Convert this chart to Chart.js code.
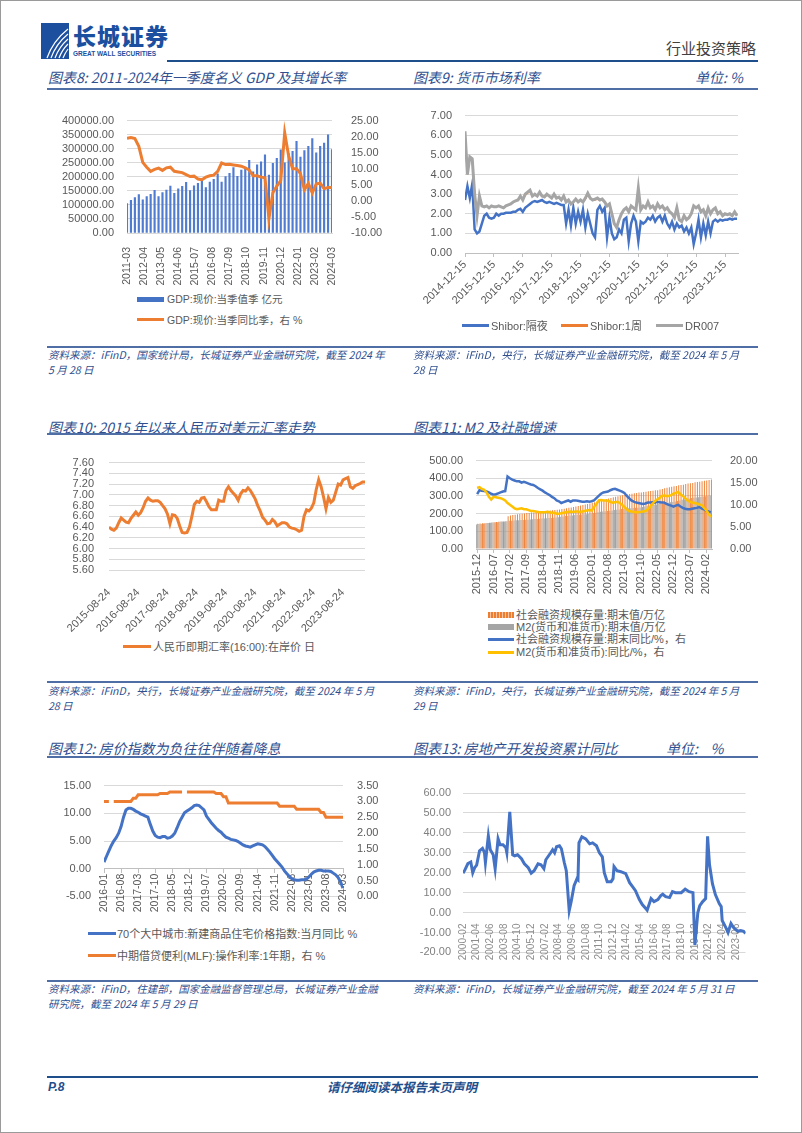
<!DOCTYPE html>
<html lang="zh-CN">
<head>
<meta charset="utf-8">
<title>行业投资策略 P.8</title>
<script src="https://cdn.jsdelivr.net/npm/chart.js@4.4.1/dist/chart.umd.min.js"></script>
<style>
  body { margin: 0; background: #fff; }
  #page { position: relative; width: 802px; height: 1133px; box-sizing: border-box; border: 1px solid #9a9a9a; overflow: hidden;
          font-family: "Liberation Sans", "Noto Sans CJK SC", sans-serif; }
  #page > * { position: absolute; }
  .title { font-family: "Noto Sans CJK SC", sans-serif; font-style: italic; color: #2f4f8f; font-size: 14px; line-height: 16px; white-space: nowrap; }
  .rule { height: 2px; background: #4f6ea6; }
  .src { font-family: "Noto Sans CJK SC", sans-serif; font-style: italic; color: #2f4f8f; font-size: 10.5px; line-height: 15px; white-space: nowrap; }
  .lg { font-size: 11px; line-height: 12px; color: #595959; white-space: nowrap; }
</style>
</head>
<body>
<div id="page">
  <!-- header -->
  <svg style="left:40px;top:22px" width="28" height="36" viewBox="0 0 28 36">
    <rect width="28" height="36" fill="#1d4f9f"/>
    <path d="M6 35 Q12 18 27 6" stroke="#fff" stroke-width="1.2" fill="none"/>
    <path d="M10 35 Q15 21 27 11" stroke="#fff" stroke-width="1.2" fill="none"/>
    <path d="M14 35 Q18 24 27 16" stroke="#fff" stroke-width="1.2" fill="none"/>
    <path d="M18 35 Q21 27 27 21" stroke="#fff" stroke-width="1.2" fill="none"/>
    <path d="M22 35 Q24 30 27 26" stroke="#fff" stroke-width="1.2" fill="none"/>
  </svg>
  <div style="left:72px;top:21px;font-family:'Noto Sans CJK SC';font-weight:900;font-size:23px;line-height:26px;color:#1b4f9f;letter-spacing:1px">长城证券</div>
  <div style="left:72px;top:49px;font-size:6.5px;line-height:8px;font-weight:bold;color:#1b4f9f">GREAT WALL SECURITIES</div>
  <div style="left:665px;top:38px;font-family:'Noto Sans CJK SC';font-size:15px;line-height:18px;color:#404040">行业投资策略</div>
  <div style="left:166px;top:59px;width:591px;height:2px;background:#1f4e8c"></div>

  <!-- row 1 -->
  <div class="title" style="left:47px;top:68px">图表8:  2011-2024年一季度名义 GDP 及其增长率</div>
  <div class="title" style="left:412px;top:68px">图表9:  货币市场利率</div>
  <div class="title" style="left:694px;top:68px">单位:  %</div>
  <div class="rule" style="left:46px;top:87px;width:711px"></div>

  <canvas id="c8" width="345" height="185" style="left:40px;top:100px"></canvas>
  <div style="left:136px;top:296px;width:27px;height:5px;background:#4472C4"></div>
  <div class="lg" style="left:166px;top:292px;font-size:10.5px">GDP:现价:当季值季 亿元</div>
  <div style="left:136px;top:317px;width:27px;height:3px;background:#ED7D31"></div>
  <div class="lg" style="left:166px;top:313px;font-size:10.5px">GDP:现价:当季同比季，右 %</div>

  <canvas id="c9" width="345" height="225" style="left:405px;top:95px"></canvas>
  <div style="left:461px;top:323px;width:27px;height:3px;background:#4472C4"></div>
  <div class="lg" style="left:490px;top:319px">Shibor:隔夜</div>
  <div style="left:560px;top:323px;width:27px;height:3px;background:#ED7D31"></div>
  <div class="lg" style="left:589px;top:319px">Shibor:1周</div>
  <div style="left:655px;top:323px;width:27px;height:3px;background:#A5A5A5"></div>
  <div class="lg" style="left:684px;top:319px">DR007</div>

  <div class="rule" style="left:46px;top:345px;width:711px"></div>
  <div class="src" style="left:47px;top:346px">资料来源：iFinD，国家统计局，长城证券产业金融研究院，截至 2024 年<br>5 月 28 日</div>
  <div class="src" style="left:412px;top:346px">资料来源：iFinD，央行，长城证券产业金融研究院，截至 2024 年 5 月<br>28 日</div>

  <!-- row 2 -->
  <div class="title" style="left:47px;top:418px">图表10:  2015 年以来人民币对美元汇率走势</div>
  <div class="title" style="left:412px;top:418px">图表11:  M2 及社融增速</div>
  <div class="rule" style="left:46px;top:432px;width:711px"></div>

  <canvas id="c10" width="340" height="192" style="left:40px;top:440px"></canvas>
  <div style="left:122px;top:644px;width:28px;height:3px;background:#ED7D31"></div>
  <div class="lg" style="left:152px;top:640px">人民币即期汇率(16:00):在岸价 日</div>

  <canvas id="c11" width="360" height="160" style="left:405px;top:440px"></canvas>
  <div style="left:487px;top:611px;width:26px;height:6px;background:repeating-linear-gradient(90deg,#ED7D31 0 2px,#f6c4a0 2px 3px)"></div>
  <div class="lg" style="left:515px;top:608px">社会融资规模存量:期末值/万亿</div>
  <div style="left:487px;top:623px;width:26px;height:6px;background:#A5A5A5"></div>
  <div class="lg" style="left:515px;top:620px">M2(货币和准货币):期末值/万亿</div>
  <div style="left:487px;top:637px;width:26px;height:3px;background:#4472C4"></div>
  <div class="lg" style="left:515px;top:632px">社会融资规模存量:期末同比/%，右</div>
  <div style="left:487px;top:650px;width:26px;height:3px;background:#FFC000"></div>
  <div class="lg" style="left:515px;top:645px">M2(货币和准货币):同比/%，右</div>

  <div class="rule" style="left:46px;top:680px;width:711px"></div>
  <div class="src" style="left:47px;top:682px">资料来源：iFinD，央行，长城证券产业金融研究院，截至 2024 年 5 月<br>28 日</div>
  <div class="src" style="left:412px;top:682px">资料来源：iFinD，央行，长城证券产业金融研究院，截至 2024 年 5 月<br>29 日</div>

  <!-- row 3 -->
  <div class="title" style="left:47px;top:739px">图表12:  房价指数为负往往伴随着降息</div>
  <div class="title" style="left:412px;top:739px">图表13:  房地产开发投资累计同比</div>
  <div class="title" style="left:665px;top:739px">单位:&nbsp;&nbsp;&nbsp; %</div>
  <div class="rule" style="left:46px;top:755px;width:711px"></div>

  <canvas id="c12" width="345" height="150" style="left:40px;top:765px"></canvas>
  <div style="left:87px;top:931px;width:28px;height:3px;background:#4472C4"></div>
  <div class="lg" style="left:116px;top:927px">70个大中城市:新建商品住宅价格指数:当月同比 %</div>
  <div style="left:87px;top:953px;width:28px;height:3px;background:#ED7D31"></div>
  <div class="lg" style="left:116px;top:949px">中期借贷便利(MLF):操作利率:1年期，右 %</div>

  <canvas id="c13" width="345" height="205" style="left:405px;top:765px"></canvas>

  <div class="rule" style="left:46px;top:979px;width:711px"></div>
  <div class="src" style="left:47px;top:980px">资料来源：iFinD，住建部，国家金融监督管理总局，长城证券产业金融<br>研究院，截至 2024 年 5 月 29 日</div>
  <div class="src" style="left:412px;top:980px">资料来源：iFinD，长城证券产业金融研究院，截至 2024 年 5 月 31 日</div>

  <!-- footer -->
  <div style="left:46px;top:1075px;width:711px;height:2px;background:#1f4e8c"></div>
  <div style="left:47px;top:1079px;font-size:12px;line-height:14px;font-weight:bold;font-style:italic;color:#1f4e8c">P.8</div>
  <div style="left:326px;top:1079px;font-family:'Noto Sans CJK SC';font-size:12.5px;line-height:14px;font-weight:bold;font-style:italic;color:#1f4e8c">请仔细阅读本报告末页声明</div>
</div>

<script>
// ---- 图表8: quarterly GDP (亿元) and yoy (%), 2011Q1 - 2024Q1
const gdpValue = [
  105000, 116000, 126000, 137000,  118000, 130000, 138000, 152000,
  130000, 144000, 153000, 167000,  141000, 157000, 166000, 180000,
  151000, 168000, 177000, 192000,  162000, 181000, 191000, 211000,
  181000, 201000, 212000, 233000,  202000, 224000, 234000, 259000,
  218000, 243000, 253000, 278000,  206000, 248000, 266000, 296000,
  250000, 283000, 291000, 326000,  270000, 293000, 308000, 336000,
  285000, 308000, 320000, 349000,  297000
];
const gdpYoy = [
  19.5, 19.7, 19.4, 17.0,  12.0, 10.5, 9.2, 9.8,
  10.2, 9.5, 10.3, 10.5,   9.2, 9.0, 8.8, 8.2,
  7.6, 7.7, 6.8, 6.6,      7.4, 7.8, 8.0, 9.2,
  11.8, 11.3, 11.4, 11.2,  11.0, 10.8, 10.3, 9.6,
  7.8, 7.8, 7.4, 7.2,      -5.5, 2.5, 4.6, 6.3,
  21.2, 14.0, 10.0, 10.0,  8.5, 3.5, 5.4, 2.5,
  5.3, 5.5, 3.8, 4.2,      4.2
];
const gdpTicks = ['2011-03', '2012-04', '2013-05', '2014-06', '2015-07', '2016-08', '2017-09',
                  '2018-10', '2019-11', '2020-12', '2022-01', '2023-02', '2024-03'];

// ---- 图表9: monthly money market rates from 2014-12 (%)
const shiborON = [
  2.7, 3.4, 2.8, 3.5, 1.2, 1.0, 1.1, 1.5, 1.9, 2.0, 1.8, 1.75,
  1.8, 2.0, 1.9, 2.0, 2.0, 2.05, 2.05, 2.05, 2.1, 2.1, 2.2, 2.25,
  2.1, 2.3, 2.4, 2.5, 2.6, 2.65, 2.6, 2.65, 2.7, 2.6, 2.55, 2.6,
  2.55, 2.5, 2.55, 2.5, 2.45, 2.45, 1.5, 2.2, 1.4, 2.3, 1.5, 2.1,
  1.6, 2.2, 1.3, 2.0, 1.5, 1.0, 0.8, 2.2, 2.4, 2.1, 2.3, 0.8,
  1.8, 1.0, 0.7, 0.8, 1.2, 1.0, 1.7, 1.8, 0.6, 1.5, 1.9, 1.6,
  0.6, 1.6, 1.5, 1.6, 1.8, 1.7, 1.9, 1.6, 1.8, 1.9, 1.6, 1.9,
  1.5, 1.3, 1.6, 1.2, 1.5, 1.3, 1.4, 1.1, 1.3, 1.0, 1.3, 0.45,
  1.0, 1.7, 0.8, 1.5, 0.9, 1.6, 1.0, 1.6, 1.7, 1.6, 1.7, 1.65,
  1.7, 1.7, 1.75, 1.7, 1.75, 1.75
];
const shibor1W = [
  6.1, 4.0, 4.9, 4.8, 3.0, 1.9, 2.9, 2.4, 2.35, 2.4, 2.3, 2.4,
  2.35, 2.35, 2.4, 2.35, 2.3, 2.4, 2.45, 2.5, 2.6, 2.65, 2.7, 2.85,
  2.7, 2.95, 3.05, 3.15, 2.9, 2.95, 2.9, 3.05, 2.9, 2.85, 2.95, 2.9,
  2.8, 2.95, 2.8, 2.85, 2.7, 2.85, 2.6, 2.7, 2.5, 2.6, 2.7, 2.6,
  2.7, 2.6, 2.75, 3.0, 2.75, 2.7, 2.7, 2.75, 2.7, 2.7, 2.6, 2.4,
  2.5, 2.0, 1.5, 1.3, 1.7, 2.0, 2.2, 2.3, 2.1, 2.35, 2.3, 2.2,
  3.2, 2.2, 2.35, 2.3, 2.55, 2.3, 2.35, 2.2, 2.45, 2.3, 2.35, 2.2,
  2.3, 2.1, 2.0, 1.8, 2.25, 1.7, 1.6, 1.9, 1.7, 1.8, 2.0, 2.35,
  2.3, 2.35, 2.1, 2.2, 1.9, 2.25, 2.0, 2.2, 2.25, 2.0, 2.1, 1.9,
  2.0, 1.95, 2.0, 1.9, 2.05, 1.9
];
const dr007 = [
  6.2, 4.0, 4.9, 4.8, 3.0, 1.9, 2.9, 2.4, 2.35, 2.4, 2.3, 2.4,
  2.35, 2.35, 2.4, 2.35, 2.3, 2.4, 2.45, 2.5, 2.6, 2.65, 2.7, 2.9,
  2.7, 3.0, 3.1, 3.2, 2.9, 3.0, 2.9, 3.1, 2.9, 2.85, 3.0, 2.9,
  2.8, 3.0, 2.8, 2.85, 2.7, 2.9, 2.6, 2.7, 2.5, 2.6, 2.75, 2.6,
  2.7, 2.6, 2.8, 3.05, 2.8, 2.7, 2.75, 2.8, 2.7, 2.75, 2.6, 2.4,
  2.5, 2.0, 1.5, 1.3, 1.7, 2.0, 2.2, 2.3, 2.1, 2.4, 2.3, 2.2,
  3.3, 2.2, 2.4, 2.3, 2.6, 2.3, 2.4, 2.2, 2.5, 2.3, 2.4, 2.2,
  2.3, 2.1, 2.0, 1.8, 2.3, 1.7, 1.6, 1.9, 1.7, 1.8, 2.0, 2.4,
  2.3, 2.4, 2.1, 2.2, 1.9, 2.3, 2.0, 2.2, 2.3, 2.0, 2.1, 1.9,
  2.0, 1.95, 2.0, 1.9, 2.1, 1.9
];
const rateTicks = ['2014-12-15', '2015-12-15', '2016-12-15', '2017-12-15', '2018-12-15',
                   '2019-12-15', '2020-12-15', '2021-12-15', '2022-12-15', '2023-12-15'];

// ---- 图表10: RMB / USD, monthly from 2015-08
const fxRate = [
  6.40, 6.36, 6.34, 6.38, 6.48, 6.57, 6.53, 6.49, 6.48, 6.56, 6.62, 6.68,
  6.62, 6.67, 6.76, 6.88, 6.94, 6.90, 6.88, 6.89, 6.89, 6.86, 6.80, 6.74,
  6.64, 6.46, 6.63, 6.62, 6.56, 6.42, 6.30, 6.29, 6.30, 6.40, 6.60, 6.82,
  6.88, 6.86, 6.94, 6.95, 6.87, 6.78, 6.72, 6.72, 6.72, 6.90, 6.88, 6.88,
  7.08, 7.15, 7.08, 7.03, 6.98, 6.90, 7.02, 7.08, 7.07, 7.13, 7.08, 7.00,
  6.92, 6.80, 6.70, 6.58, 6.53, 6.46, 6.47, 6.54, 6.50, 6.42, 6.45, 6.48,
  6.48, 6.46, 6.40, 6.38, 6.37, 6.35, 6.32, 6.34, 6.60, 6.72, 6.70, 6.75,
  6.85, 7.10, 7.28, 7.15, 6.96, 6.74, 6.95, 6.86, 6.90, 7.05, 7.20, 7.18,
  7.28, 7.30, 7.32, 7.15, 7.12, 7.17, 7.19, 7.21, 7.24, 7.24
];
const fxTicks = ['2015-08-24', '2016-08-24', '2017-08-24', '2018-08-24', '2019-08-24',
                 '2020-08-24', '2021-08-24', '2022-08-24', '2023-08-24'];

// ---- 图表11: monthly from 2015-12, stock (万亿) and yoy (%)
const socialStock = [
  143, 144, 145, 146, 147, 148, 150, 152, 153, 154,
  155, 156, 157, 185, 190, 192, 194, 196, 198, 200,
  201, 203, 204, 206, 207, 208, 210, 212, 213, 214,
  216, 218, 219, 221, 222, 224, 226, 228, 230, 233,
  235, 237, 240, 243, 246, 249, 252, 255, 258, 262,
  265, 269, 272, 276, 279, 283, 286, 289, 292, 295,
  298, 301, 304, 307, 309, 311, 313, 315, 317, 319,
  320, 322, 324, 326, 328, 330, 332, 333, 336, 339,
  343, 346, 349, 352, 355, 357, 360, 362, 364, 367,
  370, 372, 374, 377, 379, 381, 383, 386, 388, 390,
  393
];
const m2Stock = [
  139, 141, 142, 144, 145, 147, 149, 150, 151, 152,
  154, 155, 156, 157, 160, 160, 161, 162, 163, 164,
  164, 165, 166, 167, 168, 169, 170, 171, 172, 173,
  174, 175, 176, 177, 178, 180, 182, 184, 186, 187,
  189, 190, 192, 193, 194, 195, 196, 197, 198, 200,
  203, 205, 208, 210, 212, 213, 215, 216, 218, 220,
  222, 224, 226, 228, 229, 230, 231, 232, 233, 234,
  235, 237, 240, 243, 245, 248, 250, 252, 254, 256,
  258, 260, 262, 264, 266, 269, 272, 275, 278, 281,
  284, 286, 288, 290, 291, 292, 294, 297, 299, 300,
  301
];
const socialYoy = [
  12.4, 13.3, 13.2, 13.1, 13.0, 12.8, 12.5, 12.3, 12.4, 12.6,
  12.8, 13.0, 13.1, 16.4, 16.0, 15.7, 15.5, 15.3, 15.3, 15.0,
  15.2, 15.0, 14.8, 14.6, 14.5, 14.2, 13.8, 13.5, 13.2, 12.8,
  12.5, 12.2, 11.8, 11.5, 11.0, 10.8, 10.4, 10.6, 10.8, 11.0,
  10.7, 11.0, 11.0, 10.9, 10.8, 10.7, 10.7, 10.8, 10.7, 10.8,
  11.0, 11.5, 12.0, 12.5, 12.8, 12.9, 13.0, 13.3, 13.5, 13.6,
  13.4, 13.2, 13.0, 12.7, 12.0, 11.5, 11.0, 10.7, 10.5, 10.4,
  10.3, 10.2, 10.3, 10.5, 10.5, 10.6, 10.5, 10.7, 10.6, 10.5,
  10.5, 10.2, 10.0, 9.8, 9.6, 9.8, 10.0, 9.6, 9.3, 9.1,
  9.0, 9.0, 9.1, 9.2, 9.3, 9.5, 9.2, 9.0, 8.7, 8.5,
  8.3
];
const m2Yoy = [
  13.8, 14.0, 13.6, 13.4, 12.8, 11.8, 11.2, 11.8, 11.7, 11.6,
  11.5, 11.3, 11.0, 10.4, 10.0, 9.6, 9.2, 9.0, 9.1, 9.2,
  9.0, 9.0, 8.8, 8.6, 8.6, 8.5, 8.4, 8.3, 8.3, 8.3,
  8.4, 8.3, 8.2, 8.2, 8.0, 8.0, 8.1, 8.2, 8.3, 8.4,
  8.5, 8.4, 8.5, 8.5, 8.4, 8.5, 8.6, 8.7, 8.8, 8.7,
  9.5, 10.1, 11.0, 11.1, 11.0, 11.0, 10.9, 10.7, 10.5, 10.6,
  10.7, 10.4, 10.0, 9.5, 9.0, 8.6, 8.5, 8.4, 8.3, 8.3,
  8.4, 8.5, 8.6, 9.0, 9.5, 10.2, 10.8, 11.2, 11.5, 12.0,
  12.1, 12.0, 12.0, 12.2, 12.5, 12.7, 12.9, 12.4, 12.0, 11.5,
  11.0, 10.7, 10.5, 10.4, 10.3, 10.1, 10.0, 9.4, 8.8, 8.0,
  7.2
];
const m2Ticks = ['2015-12', '2016-07', '2017-02', '2017-09', '2018-04', '2018-11', '2019-06', '2020-01',
                 '2020-08', '2021-03', '2021-10', '2022-05', '2022-12', '2023-07', '2024-02'];

// ---- 图表12: monthly from 2016-01
const houseYoy = [
  1.2, 2.2, 3.2, 4.2, 5.0, 5.6, 6.4, 7.6, 9.3, 10.6,
  10.9, 10.9, 10.7, 10.4, 10.2, 9.9, 9.7, 9.5, 9.3, 8.0,
  6.8, 6.0, 5.7, 5.6, 5.8, 5.8, 5.5, 5.6, 5.9, 6.4,
  7.4, 8.5, 9.3, 10.1, 10.4, 10.7, 11.0, 11.4, 11.5, 11.4,
  11.0, 10.6, 9.5, 8.9, 8.3, 7.8, 7.3, 6.9, 6.6, 6.1,
  5.7, 5.5, 5.3, 5.2, 5.1, 4.9, 4.6, 4.3, 4.1, 4.0,
  3.9, 4.1, 4.3, 4.5, 4.4, 4.3, 4.0, 3.5, 3.0, 2.4,
  1.8, 1.3, 0.8, 0.3, -0.4, -0.9, -1.4, -1.8, -2.0, -2.1,
  -2.1, -2.0, -2.0, -1.9, -1.5, -1.0, -0.6, -0.4, -0.3, -0.3,
  -0.4, -0.4, -0.4, -0.5, -0.8, -1.1, -1.6, -2.4, -3.5
];
const mlfRate = [
  3.0, 3.0, 3.0, null, 3.0, 3.0, 3.0, 3.0, 3.0, 3.0,
  3.0, 3.0, 3.1, 3.1, 3.21, 3.21, 3.21, 3.21, 3.21, 3.21,
  3.21, 3.21, 3.21, 3.25, 3.25, 3.25, 3.25, 3.3, 3.3, 3.3,
  3.3, 3.3, 3.3, null, 3.3, 3.3, 3.3, 3.3, 3.3, 3.3,
  3.3, 3.3, 3.3, 3.3, 3.3, 3.3, 3.25, 3.25, 3.25, 3.15,
  3.15, 2.95, 2.95, 2.95, 2.95, 2.95, 2.95, 2.95, 2.95, 2.95,
  2.95, 2.95, 2.95, 2.95, 2.95, 2.95, 2.95, 2.95, 2.95, 2.95,
  2.95, 2.95, 2.85, 2.85, 2.85, 2.85, 2.85, 2.85, 2.85, 2.75,
  2.75, 2.75, 2.75, 2.75, 2.75, 2.75, 2.75, 2.75, 2.75, 2.65,
  2.65, 2.5, 2.5, 2.5, 2.5, 2.5, 2.5, 2.5, 2.5
];
const houseTicks = ['2016-01', '2016-08', '2017-03', '2017-10', '2018-05', '2018-12', '2019-07', '2020-02',
                    '2020-09', '2021-04', '2021-11', '2022-06', '2023-01', '2023-08', '2024-03'];

// ---- 图表13: cumulative yoy, months counted from 2000-02
const invMonth = [
  0, 2, 5, 8, 10, 12, 14, 17, 20, 22, 23, 26, 28, 31, 33, 36, 38, 41, 44, 45,
  48, 51, 53, 56, 60, 63, 67, 70, 73, 77, 80, 83, 85, 90, 92, 94, 96, 99, 101, 104,
  106, 109, 111, 114, 117, 118, 119, 122, 126, 130, 133, 137, 140, 143, 145, 148, 152, 154, 155, 158,
  162, 167, 171, 174, 177, 181, 184, 188, 189, 193, 196, 200, 203, 205, 208, 212, 215, 218, 224, 228,
  232, 236, 238, 241, 243, 246, 249, 251, 253, 256, 259, 263, 265, 266, 270, 272, 275, 278, 282, 285,
  288, 290
];
const invValue = [
  19.8, 21.4, 24.6, 25.4, 20.0, 22.5, 23.8, 31.0, 32.2, 30.2, 25.0, 38.5, 31.5, 29.0, 22.0, 37.0, 34.0, 34.0, 32.5, 30.0,
  50.5, 29.0, 28.5, 29.0, 27.0, 24.5, 22.5, 19.8, 21.0, 24.5, 24.0, 22.0, 26.5, 30.0, 31.5, 30.0, 33.0, 33.5, 32.0, 25.0,
  21.0, 1.0, 5.5, 13.5, 17.0, 16.5, 35.0, 38.0, 37.0, 34.5, 35.0, 33.5, 30.0, 28.0, 20.0, 15.5, 15.5, 17.0, 23.0, 21.0,
  20.5, 19.5, 15.0, 13.0, 11.0, 6.5, 4.0, 1.8, 1.2, 7.0, 5.5, 6.5, 8.5, 9.2, 8.0, 7.5, 10.5, 10.0, 10.0, 11.8,
  10.5, 10.0, -16.3, 0.0, 3.5, 5.5, 7.0, 38.3, 24.0, 14.5, 9.0, 4.5, 3.0, -4.0, -7.8, -10.0, -5.5, -7.8, -9.4, -9.0,
  -9.4, -10.5
];
const invTicks = ['2000-02', '2001-04', '2002-06', '2003-08', '2004-10', '2005-12', '2007-02', '2008-04',
                  '2009-06', '2010-08', '2011-10', '2012-12', '2014-02', '2015-04', '2016-06', '2017-08',
                  '2018-10', '2019-12', '2021-02', '2022-04', '2023-06'];

// ---------------------------------------------------------------
Chart.defaults.font.family = '"Liberation Sans", "Noto Sans CJK SC", sans-serif';
Chart.defaults.font.size = 11;
Chart.defaults.color = '#595959';
Chart.defaults.animation = false;
Chart.defaults.plugins.legend.display = false;
Chart.defaults.plugins.tooltip.enabled = false;
Chart.defaults.elements.point.radius = 0;

const GRID = '#D9D9D9';
const two = v => Number(v).toFixed(2);
const width = w => s => { s.width = w; };
const height = h => s => { s.height = h; };
const fromTicks = (list, step) => v => {
  const k = Math.round(v / step);
  return (Math.abs(v - k * step) < 1e-6 && list[k]) ? list[k] : '';
};

// 图表8
new Chart(document.getElementById('c8'), {
  type: 'bar',
  data: {
    datasets: [
      { type: 'line', data: gdpYoy.map((v, i) => ({ x: i * 3, y: v })), yAxisID: 'y1',
        borderColor: '#ED7D31', borderWidth: 3, order: 1 },
      { type: 'bar', data: gdpValue.map((v, i) => ({ x: i * 3, y: v })), yAxisID: 'y',
        backgroundColor: '#4F7BD0', barThickness: 1.5, order: 2 }
    ]
  },
  options: {
    responsive: false,
    layout: { padding: { top: 12 }, autoPadding: false },
    scales: {
      x: { type: 'linear', min: 0, max: 156, offset: false, afterFit: height(53),
           grid: { display: false }, border: { display: true, color: GRID },
           ticks: { stepSize: 13, includeBounds: false, autoSkip: false, minRotation: 90, maxRotation: 90,
                    padding: 6, font: { size: 10.5 }, callback: fromTicks(gdpTicks, 13) } },
      y: { min: 0, max: 400000, afterFit: width(86), grid: { color: GRID, drawTicks: false }, border: { display: false },
           ticks: { stepSize: 50000, autoSkip: false, padding: 13, callback: two } },
      y1: { position: 'right', min: -10, max: 25, afterFit: width(54), grid: { display: false }, border: { display: false },
            ticks: { stepSize: 5, autoSkip: false, padding: 11, callback: two } }
    }
  }
});

// 图表9
new Chart(document.getElementById('c9'), {
  type: 'line',
  data: {
    datasets: [
      { data: shiborON.map((v, i) => ({ x: i, y: v })), borderColor: '#4472C4', borderWidth: 2.5, order: 3 },
      { data: shibor1W.map((v, i) => ({ x: i, y: v })), borderColor: '#ED7D31', borderWidth: 1.5, order: 2 },
      { data: dr007.map((v, i) => ({ x: i, y: v })), borderColor: '#A5A5A5', borderWidth: 3, order: 1 }
    ]
  },
  options: {
    responsive: false,
    layout: { padding: { top: 9, right: 13 }, autoPadding: false },
    scales: {
      x: { type: 'linear', min: 0, max: 113.4, afterFit: height(68),
           grid: { drawOnChartArea: false, drawTicks: true, tickLength: 4, color: '#BFBFBF' },
           border: { color: '#BFBFBF' },
           ticks: { stepSize: 12, includeBounds: false, autoSkip: false, minRotation: 45, maxRotation: 45,
                    padding: 1, callback: fromTicks(rateTicks, 12) } },
      y: { min: 0, max: 7, afterFit: width(59), grid: { color: GRID, drawTicks: false }, border: { display: false },
           ticks: { stepSize: 1, autoSkip: false, padding: 13, callback: two } }
    }
  }
});

// 图表10
new Chart(document.getElementById('c10'), {
  type: 'line',
  data: {
    datasets: [
      { data: fxRate.map((v, i) => ({ x: i, y: v })), borderColor: '#ED7D31', borderWidth: 3 }
    ]
  },
  options: {
    responsive: false,
    layout: { padding: { top: 10, right: 16 }, autoPadding: false },
    scales: {
      x: { type: 'linear', min: 0, max: 105, afterFit: height(63),
           grid: { display: false }, border: { display: false },
           ticks: { stepSize: 12, includeBounds: false, autoSkip: false, minRotation: 45, maxRotation: 45,
                    padding: 8, callback: fromTicks(fxTicks, 12) } },
      y: { min: 5.6, max: 7.6, afterFit: width(68), grid: { color: GRID, drawTicks: false }, border: { display: false },
           ticks: { stepSize: 0.2, autoSkip: false, padding: 15, callback: two } }
    }
  }
});

// 图表11
const m2Months = [];
for (let i = 0; i < socialStock.length; i++) {
  const d = new Date(2015, 11 + i, 1);
  m2Months.push(d.getFullYear() + '-' + String(d.getMonth() + 1).padStart(2, '0'));
}
new Chart(document.getElementById('c11'), {
  type: 'bar',
  data: {
    labels: m2Months,
    datasets: [
      { data: socialStock, backgroundColor: '#ED7D31', yAxisID: 'y', order: 4, categoryPercentage: 1, barPercentage: 0.8 },
      { data: m2Stock, backgroundColor: '#A5A5A5', yAxisID: 'y', order: 3, categoryPercentage: 1, barPercentage: 0.8 },
      { type: 'line', data: socialYoy, borderColor: '#4472C4', borderWidth: 2.5, yAxisID: 'y1', order: 2 },
      { type: 'line', data: m2Yoy, borderColor: '#FFC000', borderWidth: 2.5, yAxisID: 'y1', order: 1 }
    ]
  },
  options: {
    responsive: false,
    layout: { padding: { top: 11 }, autoPadding: false },
    scales: {
      x: { afterFit: height(52),
           afterBuildTicks: s => { s.ticks = s.ticks.filter(t => m2Ticks.includes(m2Months[t.value])); },
           grid: { offset: false, drawOnChartArea: false, drawTicks: true, tickLength: 4, color: '#BFBFBF' },
           border: { color: '#BFBFBF' },
           ticks: { autoSkip: false, minRotation: 90, maxRotation: 90, padding: 1 } },
      y: { min: 0, max: 500, afterFit: width(70), grid: { color: GRID, drawTicks: false }, border: { display: false },
           ticks: { stepSize: 100, autoSkip: false, padding: 13, callback: two } },
      y1: { position: 'right', min: 0, max: 20, afterFit: width(54), grid: { display: false }, border: { display: false },
            ticks: { stepSize: 5, autoSkip: false, padding: 10, callback: two } }
    }
  }
});

// 图表12
new Chart(document.getElementById('c12'), {
  type: 'line',
  data: {
    datasets: [
      { data: houseYoy.map((v, i) => ({ x: i, y: v })), borderColor: '#4472C4', borderWidth: 3, yAxisID: 'y', order: 2 },
      { data: mlfRate.map((v, i) => ({ x: i, y: v })), borderColor: '#ED7D31', borderWidth: 3, yAxisID: 'y1', order: 1 }
    ]
  },
  options: {
    responsive: false,
    layout: { padding: { top: 13, bottom: 13 }, autoPadding: false },
    scales: {
      x: { type: 'linear', min: 0, max: 98, position: { y: 0 },
           grid: { drawOnChartArea: false, drawTicks: true, tickLength: 4, color: '#BFBFBF' },
           border: { color: '#BFBFBF' },
           ticks: { stepSize: 7, includeBounds: false, autoSkip: false, minRotation: 90, maxRotation: 90,
                    padding: 1, font: { size: 10.5 }, callback: fromTicks(houseTicks, 7) } },
      y: { min: -5, max: 15, afterFit: width(63), grid: { color: GRID, drawTicks: false }, border: { display: false },
           ticks: { stepSize: 5, autoSkip: false, padding: 13, callback: two } },
      y1: { position: 'right', min: 0, max: 3.5, afterFit: width(43), grid: { display: false }, border: { display: false },
            ticks: { stepSize: 0.5, autoSkip: false, padding: 6, callback: two } }
    }
  }
});

// 图表13
new Chart(document.getElementById('c13'), {
  type: 'line',
  data: {
    datasets: [
      { data: invValue.map((v, i) => ({ x: invMonth[i], y: v })), borderColor: '#4472C4', borderWidth: 3 }
    ]
  },
  options: {
    responsive: false,
    layout: { padding: { top: 27, bottom: 10, right: 5 }, autoPadding: false },
    scales: {
      x: { type: 'linear', min: 0, max: 290, position: { y: 0 },
           grid: { display: false }, border: { color: GRID },
           ticks: { stepSize: 14, includeBounds: false, autoSkip: false, minRotation: 90, maxRotation: 90,
                    padding: 3, color: '#8C8C8C', font: { size: 10 }, callback: fromTicks(invTicks, 14) } },
      y: { min: -20, max: 60, afterFit: width(57), grid: { color: GRID, drawTicks: false }, border: { display: false },
           ticks: { stepSize: 10, autoSkip: false, padding: 12, color: '#7F7F7F', callback: two } }
    }
  }
});
</script>
</body>
</html>
